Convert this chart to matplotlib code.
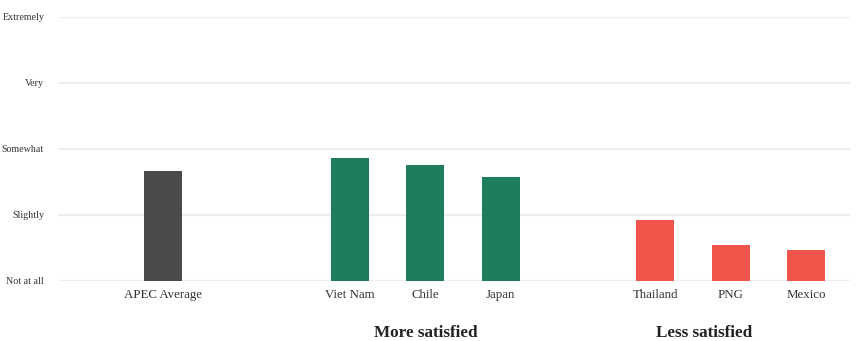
import numpy as np
import matplotlib.pyplot as plt

plt.rcParams['font.family'] = ['Liberation Serif', 'DejaVu Serif']

# data
economies = ["APEC Average", "Viet Nam", "Chile", "Japan", "Thailand", "PNG", "Mexico"]
satisfaction = [2.67, 2.86, 2.76, 2.58, 1.92, 1.55, 1.47]
groups = ["avg", "more", "more", "more", "less", "less", "less"]
level_labels = ["Not at all", "Slightly", "Somewhat", "Very", "Extremely"]
group_titles = ["More satisfied", "Less satisfied"]

colors = {"avg": "#4a4a4c", "more": "#1e7d5a", "less": "#f0544a"}
xpos = np.array([0, 2.48, 3.48, 4.48, 6.53, 7.53, 8.53])

fig = plt.figure(figsize=(8.62, 3.41), dpi=100)
ax = fig.add_axes([58 / 862, 1 - 281 / 341, (850 - 58) / 862, (281 - 17) / 341])

ax.bar(xpos, np.array(satisfaction) - 1, bottom=1, width=0.505,
       color=[colors[g] for g in groups], zorder=3)

ax.set_ylim(1, 5)
ax.set_xlim(-1.39, 9.11)
ax.set_yticks(range(1, 6))
ax.set_yticklabels(level_labels, fontsize=7.2, color="#333333")
ax.set_xticks(xpos)
ax.set_xticklabels(economies, fontsize=9.3, color="#333333")
ax.tick_params(length=0, pad=6)
ax.tick_params(axis="y", pad=10)
for s in ax.spines.values():
    s.set_visible(False)
ax.yaxis.grid(True, color="#eeeeee", linewidth=1.6, zorder=0)

# group titles under the two country groups
ytitle = -(333 - 281) / 264
ax.text(3.48, ytitle, group_titles[0], transform=ax.get_xaxis_transform(),
        ha="center", va="center", fontsize=12.3, fontweight="bold", color="#222222")
ax.text(7.17, ytitle, group_titles[1], transform=ax.get_xaxis_transform(),
        ha="center", va="center", fontsize=12.3, fontweight="bold", color="#222222")

fig.savefig("out.png", dpi=100)
